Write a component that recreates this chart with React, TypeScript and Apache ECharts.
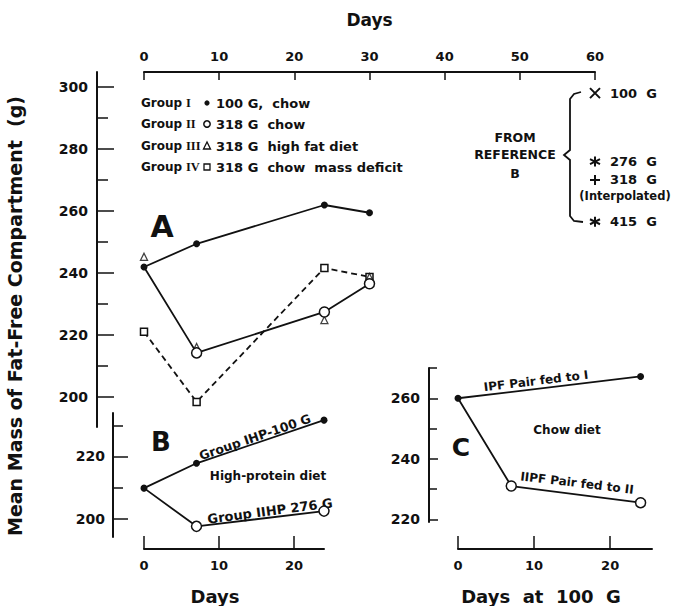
import React, { useEffect, useRef } from 'react';
import * as echarts from 'echarts';

// ---------- tick values ----------
const topDayTicks = [0, 10, 20, 30, 40, 50, 60];
const bottomDayTicks = [0, 10, 20];
const aYMajor = [200, 220, 240, 260, 280, 300];
const aYMinor = [210, 230, 250, 270, 290];
const bYMajor = [200, 220];
const bYMinor = [210, 230];
const cYMajor = [220, 240, 260];
const cYMinor = [230, 250, 270];

// ---------- panel A ----------
const aDays = [0, 7, 24, 30];
const groupI = [241.9, 249.4, 261.9, 259.4];
const groupII = [241.9, 214.2, 227.4, 236.5];
const groupIII = [245.2, 216.1, 224.8, 238.7];
const groupIV = [221.0, 198.4, 241.6, 238.7];

// reference B values (plotted at day 60)
const refDay = 60;
const refValues = [298.0, 275.9, 270.0, 256.5];
const refLabels = ['100  G', '276  G', '318  G', '415  G'];

// legend
const legendNumerals = ['I', 'II', 'III', 'IV'];
const legendTexts = ['100 G,  chow', '318 G  chow', '318 G  high fat diet', '318 G  chow  mass deficit'];

// ---------- panel B ----------
const bDays = [0, 7, 24];
const groupIHP = [209.8, 217.8, 231.7];
const groupIIHP = [209.8, 197.5, 202.4];

// ---------- panel C ----------
const cDaysIPF = [0, 24];
const groupIPF = [260, 267.2];
const cDaysIIPF = [0, 7, 24];
const groupIIPF = [260, 231.0, 225.5];

const FONT = "'DejaVu Sans', sans-serif";
const SERIF = "'Liberation Serif', 'DejaVu Serif', serif";
const INK = '#111';

const pts = (xs: number[], ys: number[]) => xs.map((x, i) => [x, ys[i]]);
const openStart = (xs: number[], ys: number[]) =>
  xs.map((x, i) => (i === 0 ? { value: [x, ys[i]], symbol: 'none' } : [x, ys[i]]));

const SYM_X = 'path://M0,1L10,9M0,9L10,1';
const SYM_AST = 'path://M5,0L5,10M0,2.5L10,7.5M0,7.5L10,2.5';
const SYM_PLUS = 'path://M5,0L5,10M0,5L10,5';
const refSymbols = [SYM_X, SYM_AST, SYM_PLUS, SYM_AST];

const openItem = { color: '#fff', borderColor: INK, borderWidth: 1.5 };
const filledItem = { color: INK, borderColor: INK, borderWidth: 0 };

function txt(text: string, x: number, y: number, size: number, opts: any = {}) {
  return {
    type: 'text',
    x,
    y,
    rotation: opts.rotation || 0,
    style: {
      text,
      fontSize: size,
      fontWeight: 'bold',
      fontFamily: opts.fontFamily || FONT,
      fill: INK,
      align: opts.align || 'center',
      verticalAlign: 'middle',
    },
  };
}

function yAxisBase(grid: number, min: number, max: number, offset: number) {
  return {
    type: 'value',
    gridIndex: grid,
    min,
    max,
    offset,
    position: 'left',
    splitLine: { show: false },
    axisLine: { show: false, onZero: false },
    axisTick: { show: false },
    axisLabel: { show: false },
  };
}

function majorY(grid: number, min: number, max: number, offset: number, ticks: number[], len: number, margin: number, showLine: boolean) {
  return {
    ...yAxisBase(grid, min, max, offset),
    axisLine: { show: showLine, onZero: false, lineStyle: { color: INK, width: 2 } },
    axisTick: { show: true, inside: true, length: len, customValues: ticks, lineStyle: { color: INK, width: 1.5 } },
    axisLabel: { show: true, customValues: ticks, margin, fontSize: 14, fontWeight: 'bold', fontFamily: FONT, color: INK },
  };
}

function minorY(grid: number, min: number, max: number, offset: number, ticks: number[], len: number) {
  return {
    ...yAxisBase(grid, min, max, offset),
    axisTick: { show: true, inside: true, length: len, customValues: ticks, lineStyle: { color: INK, width: 1.5 } },
  };
}

function lineOnlyY(grid: number, min: number, max: number, offset: number) {
  return {
    ...yAxisBase(grid, min, max, offset),
    axisLine: { show: true, onZero: false, lineStyle: { color: INK, width: 2 } },
  };
}

function bottomX(grid: number, max: number, name: string, padRight: number) {
  return {
    type: 'value',
    gridIndex: grid,
    position: 'bottom',
    min: 0,
    max,
    splitLine: { show: false },
    axisLine: { show: true, onZero: false, lineStyle: { color: INK, width: 2 } },
    axisTick: { show: true, inside: true, length: 13, customValues: bottomDayTicks, lineStyle: { color: INK, width: 1.5 } },
    axisLabel: { customValues: bottomDayTicks, margin: 10, fontSize: 13, fontWeight: 'bold', fontFamily: FONT, color: INK },
    name,
    nameLocation: 'middle',
    nameGap: 38,
    nameTextStyle: { fontSize: 18, fontWeight: 'bold', fontFamily: FONT, color: INK, padding: [0, padRight, 0, 0] },
  };
}

function hiddenX(grid: number, max: number) {
  return { type: 'value', gridIndex: grid, min: 0, max, show: false };
}

function lineSeries(name: string, data: any[], xi: number, yi: number, filled: boolean, size: number, dashed = false) {
  return {
    type: 'line',
    name,
    xAxisIndex: xi,
    yAxisIndex: yi,
    data,
    symbol: dashed ? 'rect' : 'circle',
    symbolSize: size,
    showSymbol: true,
    clip: false,
    lineStyle: { color: INK, width: 1.8, type: dashed ? [6, 4] : 'solid' },
    itemStyle: filled ? filledItem : openItem,
    emphasis: { disabled: true },
    z: filled ? 4 : 3,
  };
}

export default function App() {
  const ref = useRef<HTMLDivElement>(null);

  useEffect(() => {
    if (!ref.current) return;
    const chart = echarts.init(ref.current, null, { renderer: 'svg' });

    const legendRowsY = [103, 124, 146, 167];
    const legendGraphics: any[] = [];
    legendRowsY.forEach((y, i) => {
      legendGraphics.push(txt('Group', 141, y, 12, { align: 'left' }));
      legendGraphics.push(txt(legendNumerals[i], 186, y, 12.5, { align: 'left', fontFamily: SERIF }));
      legendGraphics.push(txt(legendTexts[i], 216, y, 13, { align: 'left' }));
    });
    // legend keys
    legendGraphics.push({ type: 'circle', shape: { cx: 207, cy: 103, r: 2.6 }, style: { fill: INK } });
    legendGraphics.push({ type: 'circle', shape: { cx: 207, cy: 124, r: 3.2 }, style: { fill: '#fff', stroke: INK, lineWidth: 1.5 } });
    legendGraphics.push({ type: 'polygon', shape: { points: [[207, 142], [203.5, 149], [210.5, 149]] }, style: { fill: '#fff', stroke: INK, lineWidth: 1.3 } });
    legendGraphics.push({ type: 'rect', shape: { x: 204, y: 164, width: 6, height: 6 }, style: { fill: '#fff', stroke: INK, lineWidth: 1.3 } });

    const option: any = {
      animation: false,
      backgroundColor: '#fff',
      grid: [
        { left: 144, top: 72, width: 451, height: 355 },
        { left: 144, top: 413, width: 180, height: 138 },
        { left: 144, top: 413, width: 180, height: 124 },
        { left: 458, top: 368, width: 194, height: 184 },
        { left: 458, top: 368, width: 194, height: 154 },
      ],
      xAxis: [
        {
          type: 'value',
          gridIndex: 0,
          position: 'top',
          min: 0,
          max: 60,
          splitLine: { show: false },
          axisLine: { show: true, onZero: false, lineStyle: { color: INK, width: 2 } },
          axisTick: { show: true, inside: true, length: 8, customValues: topDayTicks, lineStyle: { color: INK, width: 1.5 } },
          axisLabel: { customValues: topDayTicks, margin: 9, fontSize: 13, fontWeight: 'bold', fontFamily: FONT, color: INK },
          name: 'Days',
          nameLocation: 'middle',
          nameGap: 44,
          nameTextStyle: { fontSize: 17, fontWeight: 'bold', fontFamily: FONT, color: INK },
        },
        bottomX(1, 24, 'Days', 38),
        hiddenX(2, 24),
        bottomX(3, 25.5, 'Days  at  100  G', 28),
        hiddenX(4, 25.5),
      ],
      yAxis: [
        majorY(0, 190.3, 304.8, 47, aYMajor, 17, 9, true),
        minorY(0, 190.3, 304.8, 47, aYMinor, 11),
        majorY(1, 190.2, 234, 31, bYMajor, 15, 8, false),
        minorY(1, 190.2, 234, 31, bYMinor, 10),
        lineOnlyY(2, 194.6, 234, 31),
        majorY(3, 210.2, 270, 29, cYMajor, 9, 9, false),
        minorY(3, 210.2, 270, 29, cYMinor, 8),
        lineOnlyY(4, 220, 270, 29),
      ],
      series: [
        // Panel A
        lineSeries('Group IV', pts(aDays, groupIV), 0, 0, false, 7, true),
        {
          type: 'scatter',
          name: 'Group III',
          xAxisIndex: 0,
          yAxisIndex: 0,
          data: pts(aDays, groupIII),
          symbol: 'triangle',
          symbolSize: 7,
          clip: false,
          itemStyle: { color: '#fff', borderColor: INK, borderWidth: 1.3 },
          emphasis: { disabled: true },
          z: 3,
        },
        lineSeries('Group II', openStart(aDays, groupII), 0, 0, false, 10),
        lineSeries('Group I', pts(aDays, groupI), 0, 0, true, 7),
        {
          type: 'scatter',
          name: 'Reference B',
          xAxisIndex: 0,
          yAxisIndex: 0,
          clip: false,
          data: refValues.map((v, i) => ({ name: refLabels[i], value: [refDay, v], symbol: refSymbols[i] })),
          symbolSize: 10,
          itemStyle: { color: 'transparent', borderColor: INK, borderWidth: 2, opacity: 1 },
          label: { show: true, position: 'right', distance: 9, formatter: '{b}', fontSize: 13, fontWeight: 'bold', fontFamily: FONT, color: INK, opacity: 1 },
          emphasis: { disabled: true },
          z: 5,
        },
        // Panel B
        lineSeries('Group IIHP', openStart(bDays, groupIIHP), 1, 2, false, 10),
        lineSeries('Group IHP', pts(bDays, groupIHP), 1, 2, true, 7),
        // Panel C
        lineSeries('IIPF', openStart(cDaysIIPF, groupIIPF), 3, 5, false, 10),
        lineSeries('IPF', pts(cDaysIPF, groupIPF), 3, 5, true, 7),
      ],
      graphic: [
        txt('Mean Mass of Fat-Free Compartment  (g)', 15, 316, 19, { rotation: Math.PI / 2 }),
        txt('A', 162, 226, 30),
        txt('B', 161, 442, 26),
        txt('C', 461, 447, 25),
        ...legendGraphics,
        txt('FROM', 515, 137, 12.5),
        txt('REFERENCE', 515, 154, 12.5),
        txt('B', 515, 173, 12.5),
        txt('(Interpolated)', 625, 196, 11.5),
        {
          type: 'polyline',
          shape: { points: [[581, 92], [574, 94], [570, 99], [570, 150], [564, 155], [570, 160], [570, 216], [574, 221], [583, 222]] },
          style: { stroke: INK, lineWidth: 1.8, fill: 'none' },
        },
        txt('Group IHP-100 G', 255, 437, 12.5, { rotation: 0.33 }),
        txt('High-protein diet', 268, 476, 12),
        txt('Group IIHP 276 G', 270, 511, 13, { rotation: 0.13 }),
        txt('IPF Pair fed to I', 536, 381, 12, { rotation: 0.12 }),
        txt('Chow diet', 567, 430, 12),
        txt('IIPF Pair fed to II', 577, 483, 12, { rotation: -0.12 }),
      ],
    };

    chart.setOption(option);
    return () => chart.dispose();
  }, []);

  return <div ref={ref} style={{ position: 'fixed', left: 0, top: 0, width: 674, height: 606 }} />;
}
